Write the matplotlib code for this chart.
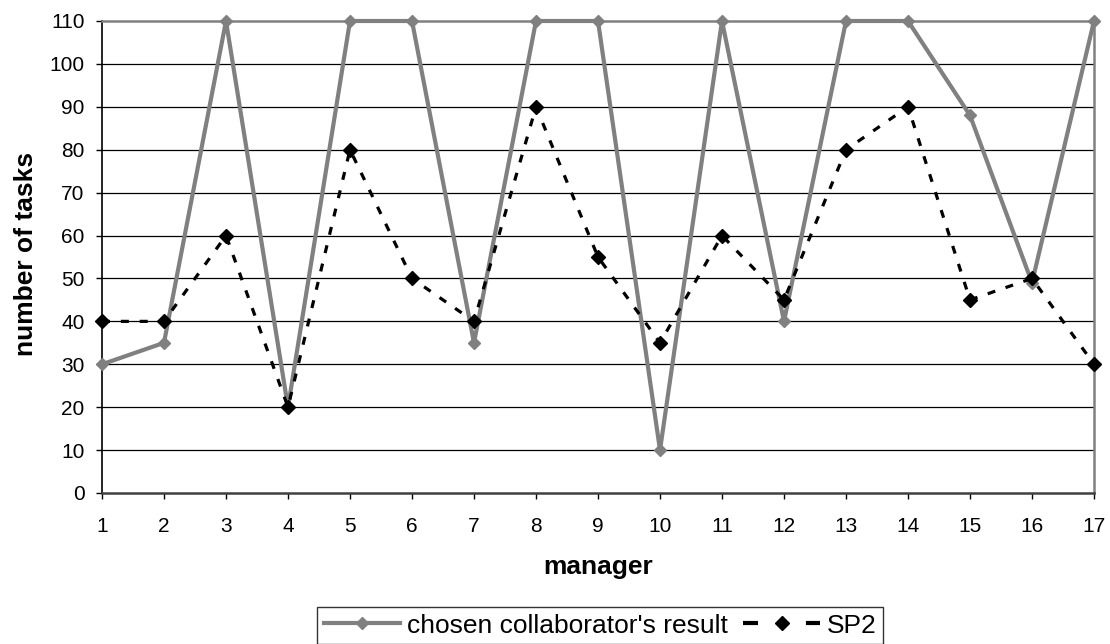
import matplotlib
matplotlib.use("Agg")
import matplotlib.pyplot as plt
from matplotlib.lines import Line2D

plt.rcParams['font.family'] = ['Liberation Sans', 'DejaVu Sans']

managers = list(range(1, 18))
chosen_result = [30, 35, 110, 20, 110, 110, 35, 110, 110, 10, 110, 40, 110, 110, 88, 49, 110]
sp2 = [40, 40, 60, 20, 80, 50, 40, 90, 55, 35, 60, 45, 80, 90, 45, 50, 30]
y_ticks = list(range(0, 111, 10))

gray = '#808080'

fig = plt.figure(figsize=(11.1, 6.44), dpi=100)
ax = fig.add_axes([102 / 1110, 1 - 493 / 644, (1094 - 102) / 1110, (493 - 21) / 644])

# horizontal grid, drawn under both series
for y in y_ticks[1:-1]:
    ax.axhline(y, color='black', lw=0.9, zorder=1)

ax.plot(managers, chosen_result, color=gray, lw=3.0, marker='D', markersize=6,
        markerfacecolor=gray, markeredgecolor=gray, clip_on=False, zorder=3)
sp2_line, = ax.plot(managers, sp2, color='black', lw=2.3, marker='D', markersize=7,
                    markerfacecolor='black', markeredgecolor='black', clip_on=False,
                    zorder=4)
sp2_line.set_dashes([2.5, 3.4])

ax.set_xlim(1, 17)
ax.set_ylim(0, 110)
ax.set_xticks(managers)
ax.set_yticks(y_ticks)
ax.tick_params(axis='both', direction='out', length=4.5, width=1, labelsize=15, color='black')
ax.tick_params(axis='x', pad=13)
ax.tick_params(axis='y', pad=8)

for side in ['top', 'right']:
    ax.spines[side].set_color(gray)
    ax.spines[side].set_linewidth(1.8)
ax.spines['left'].set_color('black')
ax.spines['left'].set_linewidth(1.2)
ax.spines['bottom'].set_color('#404040')
ax.spines['bottom'].set_linewidth(1.8)

fig.text(598.5 / 1110, 1 - 574 / 644, 'manager', ha='center', va='baseline',
         fontsize=19, fontweight='bold')
fig.text(33 / 1110, 1 - 254 / 644, 'number of tasks', ha='center', va='baseline',
         rotation=90, rotation_mode='anchor', fontsize=19, fontweight='bold')

# legend proxies: the dashed one shows dash - marker - dash like the Excel key
handles = [
    Line2D([], [], color=gray, lw=3.0, marker='D', markersize=6,
           markerfacecolor=gray, markeredgecolor=gray),
    Line2D([], [], color='black', lw=3.0, marker='D', markersize=7, dashes=[3.6, 11.5],
           markerfacecolor='black', markeredgecolor='black'),
]
leg = fig.legend(handles, ["chosen collaborator's result", 'SP2'], loc='upper left',
                 bbox_to_anchor=(317 / 1110, 1 - 607 / 644), ncol=2, fontsize=19,
                 frameon=True, fancybox=False, handlelength=2.9, handletextpad=0.25,
                 columnspacing=0.6, borderpad=0.25, borderaxespad=0)
leg.get_frame().set_edgecolor('black')
leg.get_frame().set_linewidth(1.0)

fig.savefig('out.png', dpi=100)
